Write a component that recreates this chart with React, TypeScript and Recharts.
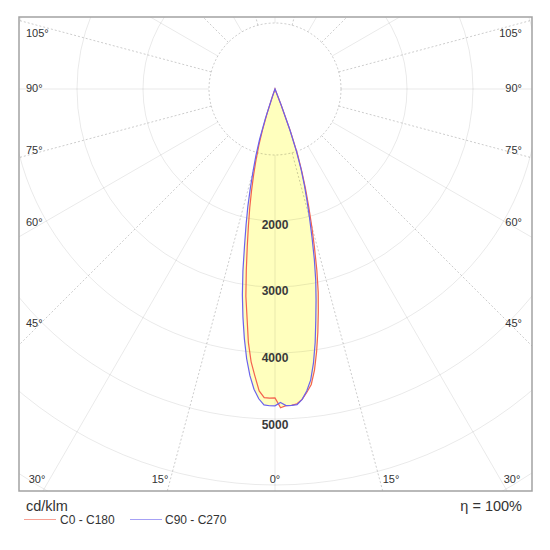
import React from 'react';
import { RadarChart, Radar, PolarGrid, PolarAngleAxis, PolarRadiusAxis } from 'recharts';

// gamma angles 0..21 degrees (1 degree steps); intensity in cd/klm
const gammaDeg = [0, 1, 2, 3, 4, 5, 6, 7, 8, 9, 10, 11, 12, 13, 14, 15, 16, 17, 18, 19, 20, 21];
// C0 half-plane (right side), red
const c0 = [4830, 4800, 4800, 4780, 4720, 4620, 4510, 4300, 4030, 3740, 3440, 3150, 2820, 2470, 2150, 1850, 1580, 1320, 1060, 700, 260, 0];
// C180 half-plane (left side), red
const c180 = [4830, 4680, 4685, 4680, 4580, 4360, 4150, 3860, 3480, 3170, 2780, 2420, 2110, 1840, 1580, 1340, 1110, 890, 650, 380, 100, 0];
// C90 half-plane (right side), blue
const c90 = [4750, 4800, 4800, 4795, 4720, 4600, 4440, 4190, 3890, 3560, 3260, 2970, 2650, 2320, 2020, 1760, 1520, 1280, 1000, 650, 250, 0];
// C270 half-plane (left side), blue
const c270 = [4750, 4800, 4800, 4790, 4700, 4560, 4360, 4110, 3810, 3490, 3160, 2800, 2420, 2110, 1830, 1540, 1270, 1050, 800, 480, 150, 0];

const seriesNames = ['C0 - C180', 'C90 - C270'];
const radiusLabels = [2000, 3000, 4000, 5000];
const ringValues = [2000, 3000, 4000, 5000, 6000, 7000];
const innerRingValue = 1000;
const radiusMax = 7000;
const sideAngleLabels = ['105°', '90°', '75°', '60°', '45°'];
const bottomAngleLabels = ['30°', '15°', '0°', '15°', '30°'];
const unitLabel = 'cd/klm';
const efficiencyLabel = 'η = 100%';

const RED = '#f4624f';
const BLUE = '#6a62ee';
const FILL = '#ffffbe';

// table needed by the radar: one row per degree around the full circle
const table = Array.from({ length: 360 }, (_, i) => {
  const right = i <= 180;
  const g = right ? i : 360 - i;
  const idx = gammaDeg.indexOf(g);
  return {
    a: i,
    red: idx >= 0 ? (right ? c0[idx] : c180[idx]) : 0,
    blue: idx >= 0 ? (right ? c90[idx] : c270[idx]) : 0,
  };
});

const W = 513;
const H = 474;
const CX = 256;
const CY = 72;
const OUTER = 462;
const pxPerCd = OUTER / radiusMax;

const solidAngles = Array.from({ length: 12 }, (_, i) => i * 30);
const dottedAngles = Array.from({ length: 12 }, (_, i) => i * 30 + 15);

const font = '"Liberation Sans", Arial, sans-serif';

const RadiusTick = (props: any) => {
  const { x, y, payload } = props;
  const extra = (y - CY) * 0.012;
  return (
    <text x={x} y={y + 6 + extra} textAnchor="middle" fontSize={12} fontWeight="bold" fill="#3a3a3a" fontFamily={font}>
      {payload.value}
    </text>
  );
};

const common = {
  width: W,
  height: H,
  cx: CX,
  cy: CY,
  startAngle: -90,
  endAngle: 270,
  data: table,
  margin: { top: 0, right: 0, bottom: 0, left: 0 },
};

const layerStyle: React.CSSProperties = { position: 'absolute', left: 0, top: 0 };

export default function App() {
  const sideY = [37.3, 92.3, 154, 226, 326.7];
  const bottomX = [37, 160, 275, 391, 512];
  return (
    <div style={{ position: 'absolute', left: 0, top: 0, width: 550, height: 550, background: '#fff', fontFamily: font }}>
      <div style={{ position: 'absolute', left: 19, top: 17, width: W, height: H, overflow: 'hidden' }}>
        <div style={layerStyle}>
          <RadarChart {...common} outerRadius={OUTER}>
            <PolarAngleAxis dataKey="a" type="category" tick={false} axisLine={false} tickLine={false} />
            <PolarRadiusAxis type="number" domain={[0, radiusMax]} tick={false} axisLine={false} />
            <Radar dataKey="blue" stroke="none" fill={FILL} fillOpacity={1} dot={false} isAnimationActive={false} />
            <Radar dataKey="red" stroke="none" fill={FILL} fillOpacity={1} dot={false} isAnimationActive={false} />
          </RadarChart>
        </div>
        <div style={layerStyle}>
          <RadarChart {...common} innerRadius={innerRingValue * pxPerCd} outerRadius={600}>
            <PolarAngleAxis dataKey="a" type="category" tick={false} axisLine={false} tickLine={false} />
            <PolarRadiusAxis type="number" domain={[0, radiusMax]} tick={false} axisLine={false} />
            <PolarGrid
              gridType="circle"
              polarAngles={solidAngles}
              polarRadius={ringValues.map((v) => v * pxPerCd)}
              stroke="#000"
              strokeOpacity={0.085}
            />
            <PolarGrid
              gridType="circle"
              polarAngles={dottedAngles}
              polarRadius={[innerRingValue * pxPerCd]}
              stroke="#000"
              strokeOpacity={0.2}
              strokeDasharray="2 2"
            />
          </RadarChart>
        </div>
        <div style={layerStyle}>
          <RadarChart {...common} outerRadius={OUTER}>
            <PolarAngleAxis dataKey="a" type="category" tick={false} axisLine={false} tickLine={false} />
            <PolarRadiusAxis
              type="number"
              angle={-90}
              domain={[0, radiusMax]}
              ticks={radiusLabels}
              tick={<RadiusTick />}
              axisLine={false}
            />
            <Radar name={seriesNames[0]} dataKey="red" stroke={RED} strokeWidth={1.2} fill="none" dot={false} isAnimationActive={false} />
            <Radar name={seriesNames[1]} dataKey="blue" stroke={BLUE} strokeWidth={1.2} fill="none" dot={false} isAnimationActive={false} />
          </RadarChart>
        </div>
      </div>
      <svg width={550} height={550} style={{ position: 'absolute', left: 0, top: 0, pointerEvents: 'none' }}>
        <rect x={19} y={17} width={513} height={474} fill="none" stroke="#a2a2a2" strokeWidth={1.5} />
        {sideAngleLabels.map((t, i) => (
          <g key={'s' + i}>
            <text x={26} y={sideY[i]} fontSize={11} fill="#333" fontFamily={font}>{t}</text>
            <text x={522} y={sideY[i]} fontSize={11} fill="#333" textAnchor="end" fontFamily={font}>{t}</text>
          </g>
        ))}
        {bottomAngleLabels.map((t, i) => (
          <text key={'b' + i} x={bottomX[i]} y={483.3} fontSize={11} fill="#333" textAnchor="middle" fontFamily={font}>{t}</text>
        ))}
        <text x={26} y={510.5} fontSize={14.5} fill="#333" fontFamily={font}>{unitLabel}</text>
        <text x={522} y={510.5} fontSize={14.5} fill="#333" textAnchor="end" fontFamily={font}>{efficiencyLabel}</text>
        <line x1={24} y1={519.5} x2={56} y2={519.5} stroke={RED} strokeOpacity={0.6} strokeWidth={1} />
        <text x={60} y={524} fontSize={12} fill="#333" fontFamily={font}>{seriesNames[0]}</text>
        <line x1={130} y1={519.5} x2={162} y2={519.5} stroke={BLUE} strokeOpacity={0.6} strokeWidth={1} />
        <text x={165} y={524} fontSize={12} fill="#333" fontFamily={font}>{seriesNames[1]}</text>
      </svg>
    </div>
  );
}
